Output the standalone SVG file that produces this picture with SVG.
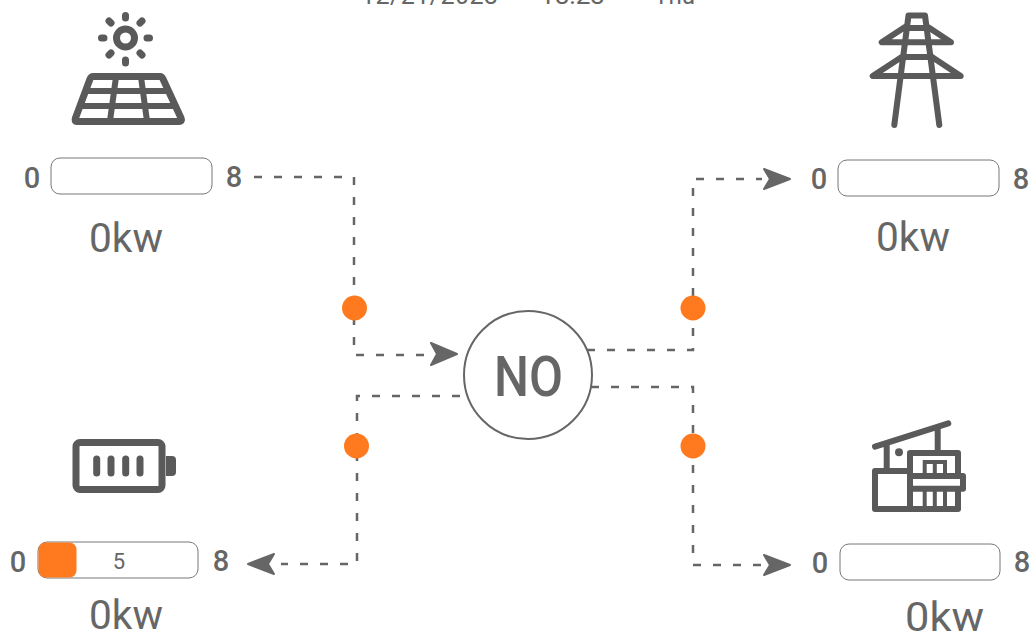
<svg xmlns="http://www.w3.org/2000/svg" width="1035" height="633" viewBox="0 0 1035 633">
<style>
text{font-family:Roboto,"Liberation Sans",sans-serif;fill:#666}
.lim{font-size:29px;text-anchor:middle;font-weight:500}
.kw{font-size:41px}
.top{font-size:25px}
.bar{fill:#fff;stroke:#777;stroke-width:1}
.dash{fill:none;stroke:#666;stroke-width:2.500;stroke-dasharray:8 12}
.dot{fill:#ff7a1f}
.arrow{fill:#666;stroke:#666;stroke-width:2;stroke-linejoin:round}
.ic{fill:none;stroke:#5a5a5a;stroke-width:6;stroke-linecap:round;stroke-linejoin:round}
</style>
<rect width="1035" height="633" fill="#fff"/>
<g id="header"><text class="top" x="361" y="4" textLength="137" lengthAdjust="spacing">12/21/2023</text><text class="top" x="540" y="4" textLength="65" lengthAdjust="spacingAndGlyphs">18:23</text><text class="top" x="654" y="4" textLength="41" lengthAdjust="spacingAndGlyphs">Thu</text></g>
<g id="connectors">
<path class="dash" d="M254 177H354V355H430"/>
<path class="dash" d="M587 350H693V179H762"/>
<path class="dash" d="M460 396H357V564H281"/>
<path class="dash" d="M591 387H693V565H762"/>
<path class="arrow" d="M431 343L457 354L431 365L437 354Z"/>
<path class="arrow" d="M764 169L790 179L764 189L770 179Z"/>
<path class="arrow" d="M764 555L790 565L764 575L770 565Z"/>
<path class="arrow" d="M274 554L248 564L274 574L268 564Z"/>
<circle class="dot" cx="354.500" cy="308" r="12.500"/>
<circle class="dot" cx="693" cy="308" r="12.500"/>
<circle class="dot" cx="356.500" cy="446" r="12.500"/>
<circle class="dot" cx="693" cy="446" r="12.500"/>
</g>
<g id="center"><circle cx="528" cy="375" r="64" fill="#fff" stroke="#666" stroke-width="2"/><text x="494" y="396" font-size="56" font-weight="500" textLength="69" lengthAdjust="spacingAndGlyphs">NO</text></g>
<g id="solar">
<circle class="ic" cx="125.500" cy="38" r="9" style="stroke-width:7"/>
<path class="ic" d="M125.500 15.500V18M125.500 60V63M101.500 38H104M147 38H149.500M109 21L111 23M142 21L140 23M109 55L111 53M142 55L140 53" style="stroke-width:7"/>
<path class="ic" d="M93 76.500H160Q162 76.500 163 79L181 118Q182.500 121.500 179 121.500H77Q74 121.500 75.500 118L90 79Q91 76.500 93 76.500Z" style="stroke-width:7"/>
<path class="ic" d="M87 91H168M81 106H174M116 77L110 121M141 77L147 121"/>
<rect class="bar" x="51" y="158" width="161" height="36" rx="9"/>
<text class="lim" x="32" y="188">0</text><text class="lim" x="234" y="187">8</text>
<text class="kw" x="89" y="252" textLength="74" lengthAdjust="spacingAndGlyphs">0kw</text>
</g>
<g id="grid">
<path class="ic" d="M908.500 15.500H925L939.300 125M908.500 15.500L894.300 125M906 28H927M905 27L881.700 42.300H951L928 27M902 57H932M901.700 57L872.700 76H960.700L932 57"/>
<rect class="bar" x="838" y="160" width="161" height="36" rx="9"/>
<text class="lim" x="819" y="189">0</text><text class="lim" x="1021" y="189">8</text>
<text class="kw" x="876" y="251" textLength="74" lengthAdjust="spacingAndGlyphs">0kw</text>
</g>
<g id="battery">
<rect class="ic" x="76" y="442.500" width="86" height="47" rx="4" style="stroke-width:7"/>
<path class="ic" d="M96.700 459V473M111 459V473M125.700 459V473M140 459V473" style="stroke-width:7"/>
<path d="M166 456H172Q176 456 176 460V472Q176 476 172 476H166Z" fill="#5a5a5a"/>
<rect class="bar" x="38" y="542" width="160" height="36" rx="9"/>
<rect x="38.500" y="542.500" width="38" height="35" rx="7" fill="#ff7a1f"/>
<text x="119" y="569" font-size="22" text-anchor="middle">5</text>
<text class="lim" x="18" y="572">0</text><text class="lim" x="221" y="571">8</text>
<text class="kw" x="89" y="629" textLength="74" lengthAdjust="spacingAndGlyphs">0kw</text>
</g>
<g id="house">
<path class="ic" d="M875 446.700L948.300 423.300M886.700 443V469M937.700 428V452"/>
<circle cx="899" cy="452.300" r="4" fill="#5a5a5a"/>
<path class="ic" d="M875 471H910V509H875ZM910 453H958V509H910Z"/>
<path d="M924.700 476V462H945V476M934.800 462V476M924.700 489V509M934.800 489V509M945 489V509" fill="none" stroke="#5a5a5a" stroke-width="4"/>
<path class="ic" d="M910 476H963V488.700H910Z" style="fill:#fff"/>
<rect class="bar" x="840" y="544" width="160" height="36" rx="9"/>
<text class="lim" x="820" y="573">0</text><text class="lim" x="1022" y="572">8</text>
<text class="kw" x="905" y="631" textLength="79" lengthAdjust="spacingAndGlyphs">0kw</text>
</g>
</svg>
